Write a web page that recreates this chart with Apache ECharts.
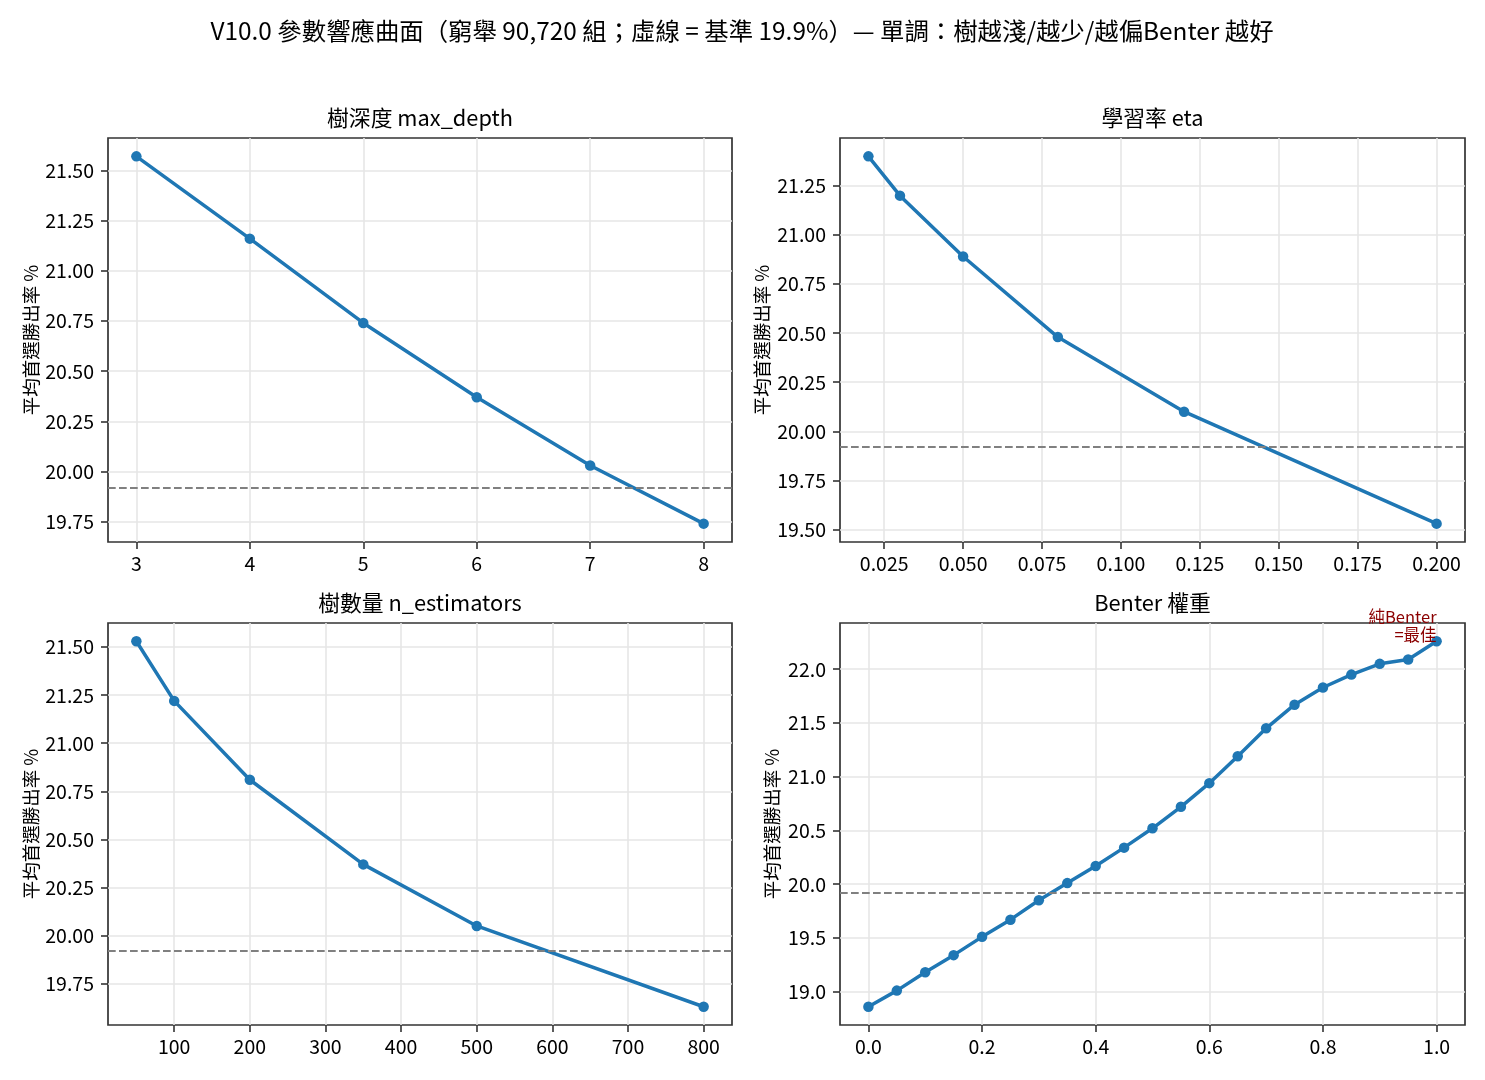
<!DOCTYPE html>
<html>
<head>
<meta charset="utf-8">
<title>V10.0 參數響應曲面</title>
<script src="https://cdn.jsdelivr.net/npm/echarts@6/dist/echarts.min.js"></script>
<style>
  html, body { margin: 0; padding: 0; background: #fff; }
  #main { width: 1485px; height: 1080px; }
</style>
</head>
<body>
<div id="main"></div>
<script>
// 基準線（虛線）
var baseline = 19.92;

// 樹深度 max_depth
var depthX = [3, 4, 5, 6, 7, 8];
var depthY = [21.57, 21.16, 20.74, 20.37, 20.03, 19.74];
var depthTicksX = [3, 4, 5, 6, 7, 8];
var depthTicksY = [19.75, 20.00, 20.25, 20.50, 20.75, 21.00, 21.25, 21.50];

// 學習率 eta
var etaX = [0.02, 0.03, 0.05, 0.08, 0.12, 0.20];
var etaY = [21.40, 21.20, 20.89, 20.48, 20.10, 19.53];
var etaTicksX = [0.025, 0.050, 0.075, 0.100, 0.125, 0.150, 0.175, 0.200];
var etaTicksY = [19.50, 19.75, 20.00, 20.25, 20.50, 20.75, 21.00, 21.25];

// 樹數量 n_estimators
var nestX = [50, 100, 200, 350, 500, 800];
var nestY = [21.53, 21.22, 20.81, 20.37, 20.05, 19.63];
var nestTicksX = [100, 200, 300, 400, 500, 600, 700, 800];
var nestTicksY = [19.75, 20.00, 20.25, 20.50, 20.75, 21.00, 21.25, 21.50];

// Benter 權重
var benterX = [0.0, 0.05, 0.1, 0.15, 0.2, 0.25, 0.3, 0.35, 0.4, 0.45, 0.5,
               0.55, 0.6, 0.65, 0.7, 0.75, 0.8, 0.85, 0.9, 0.95, 1.0];
var benterY = [18.86, 19.01, 19.18, 19.34, 19.51, 19.67, 19.85, 20.01, 20.17, 20.34, 20.52,
               20.72, 20.94, 21.19, 21.45, 21.67, 21.83, 21.95, 22.05, 22.09, 22.26];
var benterTicksX = [0.0, 0.2, 0.4, 0.6, 0.8, 1.0];
var benterTicksY = [19.0, 19.5, 20.0, 20.5, 21.0, 21.5, 22.0];

var FONT = 'Noto Sans CJK TC';
var BLUE = '#1f77b4';
var FRAME = '#333333';

// matplotlib 式 5% 邊距
function pad(arr) {
  var lo = Math.min.apply(null, arr), hi = Math.max.apply(null, arr);
  var r = hi - lo;
  return [lo - 0.05 * r, hi + 0.05 * r];
}

function pairs(xs, ys) {
  return xs.map(function (x, i) { return [x, ys[i]]; });
}

var panels = [
  { title: '樹深度 max_depth', x: depthX, y: depthY, tx: depthTicksX, ty: depthTicksY,
    fx: function (v) { return String(v); }, fy: function (v) { return v.toFixed(2); },
    grid: { left: 108, top: 138, width: 624, height: 404 }, nameGap: 68 },
  { title: '學習率 eta', x: etaX, y: etaY, tx: etaTicksX, ty: etaTicksY,
    fx: function (v) { return v.toFixed(3); }, fy: function (v) { return v.toFixed(2); },
    grid: { left: 840, top: 138, width: 625, height: 404 }, nameGap: 69 },
  { title: '樹數量 n_estimators', x: nestX, y: nestY, tx: nestTicksX, ty: nestTicksY,
    fx: function (v) { return String(v); }, fy: function (v) { return v.toFixed(2); },
    grid: { left: 108, top: 623, width: 624, height: 402 }, nameGap: 68 },
  { title: 'Benter 權重', x: benterX, y: benterY, tx: benterTicksX, ty: benterTicksY,
    fx: function (v) { return v.toFixed(1); }, fy: function (v) { return v.toFixed(1); },
    grid: { left: 840, top: 623, width: 625, height: 402 }, nameGap: 59 }
];

var splitStyle = { show: true, lineStyle: { color: '#e6e6e6', width: 1.6 } };
var tickStyle = { show: true, inside: false, length: 7, lineStyle: { color: FRAME, width: 1.6 } };

var titles = [{
  text: 'V10.0 參數響應曲面（窮舉 90,720 組；虛線 = 基準 19.9%）— 單調：樹越淺/越少/越偏Benter 越好',
  left: 742, top: 19, textAlign: 'center', padding: 0,
  textStyle: { fontFamily: FONT, fontSize: 24.4, fontWeight: 'normal', color: '#000' }
}];
var grids = [], xAxes = [], yAxes = [], series = [];

panels.forEach(function (p, i) {
  var g = p.grid;
  titles.push({
    text: p.title, left: g.left + g.width / 2, top: g.top - 31, textAlign: 'center', padding: 0,
    textStyle: { fontFamily: FONT, fontSize: 21.8, fontWeight: 'normal', color: '#000' }
  });
  grids.push({ left: g.left, top: g.top, width: g.width, height: g.height,
    show: true, borderColor: FRAME, borderWidth: 1.7, backgroundColor: 'transparent' });
  var ex = pad(p.x), ey = pad(p.y);
  xAxes.push({
    type: 'value', gridIndex: i, min: ex[0], max: ex[1],
    axisLine: { show: false, onZero: false },
    axisTick: Object.assign({ customValues: p.tx }, tickStyle),
    axisLabel: { customValues: p.tx, formatter: p.fx, margin: 12,
      fontFamily: FONT, fontSize: 19.5, color: '#000' },
    splitLine: splitStyle
  });
  yAxes.push({
    type: 'value', gridIndex: i, min: ey[0], max: ey[1],
    name: '平均首選勝出率 %', nameLocation: 'middle', nameRotate: 90, nameGap: p.nameGap,
    nameTextStyle: { fontFamily: FONT, fontSize: 18.5, color: '#000' },
    axisLine: { show: false, onZero: false },
    axisTick: Object.assign({ customValues: p.ty }, tickStyle),
    axisLabel: { customValues: p.ty, formatter: p.fy, margin: 14,
      fontFamily: FONT, fontSize: 19.5, color: '#000' },
    splitLine: splitStyle
  });
  var data = pairs(p.x, p.y);
  if (i === 3) {
    var last = data.length - 1;
    data[last] = {
      value: data[last],
      label: { show: true, formatter: '純Benter\n=最佳', position: 'inside',
        align: 'right', verticalAlign: 'bottom', offset: [0, 2],
        fontFamily: FONT, fontSize: 16.5, lineHeight: 18, color: '#8b0000' }
    };
  }
  series.push({
    type: 'line', xAxisIndex: i, yAxisIndex: i, data: data,
    symbol: 'circle', symbolSize: 10.5, showSymbol: true,
    itemStyle: { color: BLUE },
    lineStyle: { color: BLUE, width: 3.5 },
    z: 3,
    markLine: {
      silent: true, symbol: 'none', label: { show: false },
      lineStyle: { color: '#808080', type: [7.7, 3.3], width: 1.8 },
      data: [{ yAxis: baseline }]
    }
  });
});

var option = {
  animation: false,
  backgroundColor: '#fff',
  title: titles,
  grid: grids,
  xAxis: xAxes,
  yAxis: yAxes,
  series: series
};

var myChart = echarts.init(document.getElementById('main'));
myChart.setOption(option);
</script>
</body>
</html>
